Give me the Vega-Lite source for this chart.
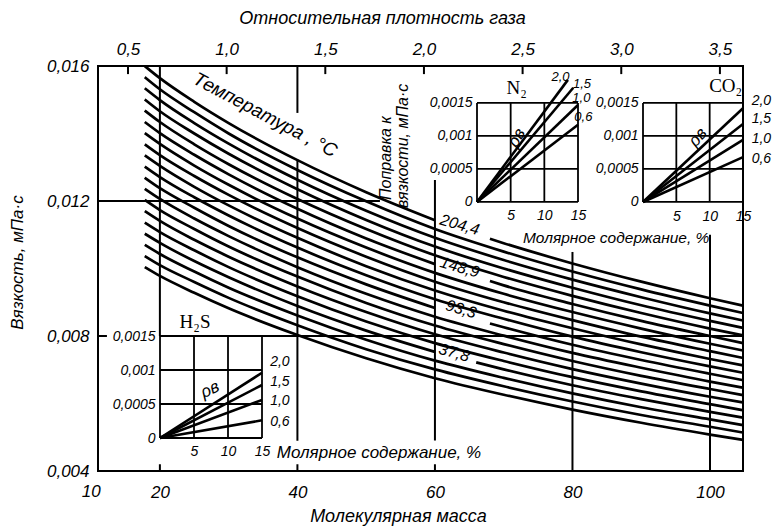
{
"$schema": "https://vega.github.io/schema/vega-lite/v6.json",
"width": 645, "height": 405,
"autosize": {"type": "none"},
"padding": {"left": 98, "top": 66, "right": 30, "bottom": 55},
"background": "white",
"config": {
  "view": {"stroke": "black", "strokeWidth": 2},
  "mark": {"color": "black"},
  "axis": {"grid": false, "domain": false, "ticks": false, "labelFont": "Liberation Sans", "labelFontStyle": "italic", "labelColor": "black", "labelFlush": false, "labelOverlap": false, "labelBound": false, "titleFont": "Liberation Sans", "titleFontStyle": "italic", "titleFontWeight": "normal", "titleColor": "black"},
  "text": {"font": "Liberation Sans", "fontStyle": "italic", "color": "black"}
},
"datasets": {
"curves": [
{"t":400,"s":"a","M":17.8,"v":0.016},{"t":400,"s":"a","M":20,"v":0.01564},{"t":400,"s":"a","M":25,"v":0.01494},{"t":400,"s":"a","M":30,"v":0.01431},{"t":400,"s":"a","M":40,"v":0.01321},{"t":400,"s":"a","M":50,"v":0.01226},{"t":400,"s":"a","M":60,"v":0.01143},
{"t":400,"s":"b","M":68,"v":0.01088},{"t":400,"s":"b","M":70,"v":0.01075},{"t":400,"s":"b","M":80,"v":0.01015},{"t":400,"s":"b","M":90,"v":0.00961},{"t":400,"s":"b","M":100,"v":0.00912},{"t":400,"s":"b","M":104.8,"v":0.0089},
{"t":380,"M":17.8,"v":0.01567},{"t":380,"M":20,"v":0.01531},{"t":380,"M":25,"v":0.01463},{"t":380,"M":30,"v":0.014},{"t":380,"M":40,"v":0.01292},{"t":380,"M":50,"v":0.01199},{"t":380,"M":60,"v":0.01117},{"t":380,"M":70,"v":0.0105},{"t":380,"M":80,"v":0.00991},{"t":380,"M":90,"v":0.00938},{"t":380,"M":100,"v":0.0089},{"t":380,"M":104.8,"v":0.00868},
{"t":360,"M":17.8,"v":0.01534},{"t":360,"M":20,"v":0.01499},{"t":360,"M":25,"v":0.01431},{"t":360,"M":30,"v":0.0137},{"t":360,"M":40,"v":0.01263},{"t":360,"M":50,"v":0.01171},{"t":360,"M":60,"v":0.01091},{"t":360,"M":70,"v":0.01025},{"t":360,"M":80,"v":0.00967},{"t":360,"M":90,"v":0.00915},{"t":360,"M":100,"v":0.00867},{"t":360,"M":104.8,"v":0.00846},
{"t":340,"M":17.8,"v":0.01501},{"t":340,"M":20,"v":0.01466},{"t":340,"M":25,"v":0.014},{"t":340,"M":30,"v":0.0134},{"t":340,"M":40,"v":0.01235},{"t":340,"M":50,"v":0.01144},{"t":340,"M":60,"v":0.01065},{"t":340,"M":70,"v":0.01},{"t":340,"M":80,"v":0.00943},{"t":340,"M":90,"v":0.00891},{"t":340,"M":100,"v":0.00845},{"t":340,"M":104.8,"v":0.00824},
{"t":320,"M":17.8,"v":0.01468},{"t":320,"M":20,"v":0.01434},{"t":320,"M":25,"v":0.01368},{"t":320,"M":30,"v":0.01309},{"t":320,"M":40,"v":0.01206},{"t":320,"M":50,"v":0.01117},{"t":320,"M":60,"v":0.01039},{"t":320,"M":70,"v":0.00975},{"t":320,"M":80,"v":0.00919},{"t":320,"M":90,"v":0.00868},{"t":320,"M":100,"v":0.00822},{"t":320,"M":104.8,"v":0.00802},
{"t":300,"s":"a","M":17.8,"v":0.01434},{"t":300,"s":"a","M":20,"v":0.01401},{"t":300,"s":"a","M":25,"v":0.01337},{"t":300,"s":"a","M":30,"v":0.01279},{"t":300,"s":"a","M":40,"v":0.01177},{"t":300,"s":"a","M":50,"v":0.01089},{"t":300,"s":"a","M":60,"v":0.01013},
{"t":300,"s":"b","M":68,"v":0.00963},{"t":300,"s":"b","M":70,"v":0.0095},{"t":300,"s":"b","M":80,"v":0.00895},{"t":300,"s":"b","M":90,"v":0.00845},{"t":300,"s":"b","M":100,"v":0.008},{"t":300,"s":"b","M":104.8,"v":0.00779},
{"t":280,"M":17.8,"v":0.01401},{"t":280,"M":20,"v":0.01369},{"t":280,"M":25,"v":0.01305},{"t":280,"M":30,"v":0.01248},{"t":280,"M":40,"v":0.01148},{"t":280,"M":50,"v":0.01062},{"t":280,"M":60,"v":0.00987},{"t":280,"M":70,"v":0.00925},{"t":280,"M":80,"v":0.00871},{"t":280,"M":90,"v":0.00822},{"t":280,"M":100,"v":0.00777},{"t":280,"M":104.8,"v":0.00757},
{"t":260,"M":17.8,"v":0.01368},{"t":260,"M":20,"v":0.01336},{"t":260,"M":25,"v":0.01274},{"t":260,"M":30,"v":0.01218},{"t":260,"M":40,"v":0.0112},{"t":260,"M":50,"v":0.01035},{"t":260,"M":60,"v":0.00961},{"t":260,"M":70,"v":0.009},{"t":260,"M":80,"v":0.00847},{"t":260,"M":90,"v":0.00798},{"t":260,"M":100,"v":0.00755},{"t":260,"M":104.8,"v":0.00735},
{"t":240,"M":17.8,"v":0.01335},{"t":240,"M":20,"v":0.01304},{"t":240,"M":25,"v":0.01242},{"t":240,"M":30,"v":0.01187},{"t":240,"M":40,"v":0.01091},{"t":240,"M":50,"v":0.01007},{"t":240,"M":60,"v":0.00935},{"t":240,"M":70,"v":0.00875},{"t":240,"M":80,"v":0.00823},{"t":240,"M":90,"v":0.00775},{"t":240,"M":100,"v":0.00732},{"t":240,"M":104.8,"v":0.00713},
{"t":220,"M":17.8,"v":0.01302},{"t":220,"M":20,"v":0.01271},{"t":220,"M":25,"v":0.01211},{"t":220,"M":30,"v":0.01157},{"t":220,"M":40,"v":0.01062},{"t":220,"M":50,"v":0.0098},{"t":220,"M":60,"v":0.00909},{"t":220,"M":70,"v":0.00851},{"t":220,"M":80,"v":0.00798},{"t":220,"M":90,"v":0.00752},{"t":220,"M":100,"v":0.0071},{"t":220,"M":104.8,"v":0.00691},
{"t":200,"s":"a","M":17.8,"v":0.01269},{"t":200,"s":"a","M":20,"v":0.01238},{"t":200,"s":"a","M":25,"v":0.0118},{"t":200,"s":"a","M":30,"v":0.01126},{"t":200,"s":"a","M":40,"v":0.01033},{"t":200,"s":"a","M":50,"v":0.00953},{"t":200,"s":"a","M":60,"v":0.00883},
{"t":200,"s":"b","M":68,"v":0.00837},{"t":200,"s":"b","M":70,"v":0.00826},{"t":200,"s":"b","M":80,"v":0.00774},{"t":200,"s":"b","M":90,"v":0.00729},{"t":200,"s":"b","M":100,"v":0.00688},{"t":200,"s":"b","M":104.8,"v":0.00669},
{"t":180,"M":17.8,"v":0.01236},{"t":180,"M":20,"v":0.01206},{"t":180,"M":25,"v":0.01148},{"t":180,"M":30,"v":0.01096},{"t":180,"M":40,"v":0.01004},{"t":180,"M":50,"v":0.00925},{"t":180,"M":60,"v":0.00857},{"t":180,"M":70,"v":0.00801},{"t":180,"M":80,"v":0.0075},{"t":180,"M":90,"v":0.00706},{"t":180,"M":100,"v":0.00665},{"t":180,"M":104.8,"v":0.00647},
{"t":160,"M":17.8,"v":0.01203},{"t":160,"M":20,"v":0.01173},{"t":160,"M":25,"v":0.01117},{"t":160,"M":30,"v":0.01065},{"t":160,"M":40,"v":0.00976},{"t":160,"M":50,"v":0.00898},{"t":160,"M":60,"v":0.00831},{"t":160,"M":70,"v":0.00776},{"t":160,"M":80,"v":0.00726},{"t":160,"M":90,"v":0.00682},{"t":160,"M":100,"v":0.00643},{"t":160,"M":104.8,"v":0.00625},
{"t":140,"M":17.8,"v":0.0117},{"t":140,"M":20,"v":0.01141},{"t":140,"M":25,"v":0.01085},{"t":140,"M":30,"v":0.01035},{"t":140,"M":40,"v":0.00947},{"t":140,"M":50,"v":0.00871},{"t":140,"M":60,"v":0.00805},{"t":140,"M":70,"v":0.00751},{"t":140,"M":80,"v":0.00702},{"t":140,"M":90,"v":0.00659},{"t":140,"M":100,"v":0.0062},{"t":140,"M":104.8,"v":0.00603},
{"t":120,"M":17.8,"v":0.01136},{"t":120,"M":20,"v":0.01108},{"t":120,"M":25,"v":0.01054},{"t":120,"M":30,"v":0.01004},{"t":120,"M":40,"v":0.00918},{"t":120,"M":50,"v":0.00843},{"t":120,"M":60,"v":0.00779},{"t":120,"M":70,"v":0.00726},{"t":120,"M":80,"v":0.00678},{"t":120,"M":90,"v":0.00636},{"t":120,"M":100,"v":0.00598},{"t":120,"M":104.8,"v":0.0058},
{"t":100,"s":"a","M":17.8,"v":0.01103},{"t":100,"s":"a","M":20,"v":0.01076},{"t":100,"s":"a","M":25,"v":0.01022},{"t":100,"s":"a","M":30,"v":0.00974},{"t":100,"s":"a","M":40,"v":0.00889},{"t":100,"s":"a","M":50,"v":0.00816},{"t":100,"s":"a","M":60,"v":0.00753},
{"t":100,"s":"b","M":66,"v":0.00722},{"t":100,"s":"b","M":70,"v":0.00701},{"t":100,"s":"b","M":80,"v":0.00654},{"t":100,"s":"b","M":90,"v":0.00613},{"t":100,"s":"b","M":100,"v":0.00575},{"t":100,"s":"b","M":104.8,"v":0.00558},
{"t":80,"M":17.8,"v":0.0107},{"t":80,"M":20,"v":0.01043},{"t":80,"M":25,"v":0.00991},{"t":80,"M":30,"v":0.00943},{"t":80,"M":40,"v":0.00861},{"t":80,"M":50,"v":0.00789},{"t":80,"M":60,"v":0.00727},{"t":80,"M":70,"v":0.00676},{"t":80,"M":80,"v":0.0063},{"t":80,"M":90,"v":0.00589},{"t":80,"M":100,"v":0.00553},{"t":80,"M":104.8,"v":0.00536},
{"t":60,"M":17.8,"v":0.01037},{"t":60,"M":20,"v":0.0101},{"t":60,"M":25,"v":0.0096},{"t":60,"M":30,"v":0.00913},{"t":60,"M":40,"v":0.00832},{"t":60,"M":50,"v":0.00761},{"t":60,"M":60,"v":0.00701},{"t":60,"M":70,"v":0.00651},{"t":60,"M":80,"v":0.00606},{"t":60,"M":90,"v":0.00566},{"t":60,"M":100,"v":0.00531},{"t":60,"M":104.8,"v":0.00514},
{"t":40,"M":17.8,"v":0.01004},{"t":40,"M":20,"v":0.00978},{"t":40,"M":25,"v":0.00928},{"t":40,"M":30,"v":0.00882},{"t":40,"M":40,"v":0.00803},{"t":40,"M":50,"v":0.00734},{"t":40,"M":60,"v":0.00675},{"t":40,"M":70,"v":0.00626},{"t":40,"M":80,"v":0.00582},{"t":40,"M":90,"v":0.00543},{"t":40,"M":100,"v":0.00508},{"t":40,"M":104.8,"v":0.00492}
],
"rules": [
{"M":20,"M2":20,"v":0.016,"v2":0.008},
{"M":20,"M2":20,"v":0.004,"v2":0.0042},
{"M":40,"M2":40,"v":0.016,"v2":0.01461},
{"M":40,"M2":40,"v":0.01323,"v2":0.0049},
{"M":40,"M2":40,"v":0.004,"v2":0.0042},
{"M":60,"M2":60,"v":0.01262,"v2":0.0049},
{"M":60,"M2":60,"v":0.004,"v2":0.0042},
{"M":80,"M2":80,"v":0.01049,"v2":0.004},
{"M":100,"M2":100,"v":0.011,"v2":0.004},
{"M":11,"M2":52,"v":0.012,"v2":0.012},
{"M":11,"M2":12.3,"v":0.008,"v2":0.008},
{"M":20,"M2":104.8,"v":0.008,"v2":0.008}
],
"tlab": [
{"M":63.6,"v":0.01129,"label":"204,4"},
{"M":63.6,"v":0.01003,"label":"148,9"},
{"M":63.8,"v":0.00879,"label":"93,3"},
{"M":62.8,"v":0.0075,"label":"37,8"}
],
"grid": [
{"x":0,"x2":15,"y":0,"y2":0},
{"x":0,"x2":15,"y":0.0015,"y2":0.0015},
{"x":0,"x2":0,"y":0,"y2":0.0015},
{"x":15,"x2":15,"y":0,"y2":0.0015},
{"x":5,"x2":5,"y":0,"y2":0.0015},
{"x":10,"x2":10,"y":0,"y2":0.0015},
{"x":0,"x2":15,"y":0.0005,"y2":0.0005},
{"x":0,"x2":15,"y":0.001,"y2":0.001}
],
"n2": [
{"g":"0.6","x":0,"y":0},{"g":"0.6","x":15,"y":0.00117},
{"g":"1.0","x":0,"y":0},{"g":"1.0","x":15,"y":0.00147},
{"g":"1.5","x":0,"y":0},{"g":"1.5","x":14.3,"y":0.00173},
{"g":"2.0","x":0,"y":0},{"g":"2.0","x":13.5,"y":0.00185}
],
"n2lab": [
{"x":12.4,"y":0.00189,"label":"2,0"},
{"x":15.6,"y":0.00179,"label":"1,5"},
{"x":15.5,"y":0.00157,"label":"1,0"},
{"x":15.8,"y":0.00128,"label":"0,6"}
],
"co2": [
{"g":"0.6","x":0,"y":0},{"g":"0.6","x":15,"y":0.00068},
{"g":"1.0","x":0,"y":0},{"g":"1.0","x":15,"y":0.00094},
{"g":"1.5","x":0,"y":0},{"g":"1.5","x":15,"y":0.00118},
{"g":"2.0","x":0,"y":0},{"g":"2.0","x":15,"y":0.00142}
],
"co2lab": [
{"x":16.3,"y":0.00153,"label":"2,0"},
{"x":16.3,"y":0.00126,"label":"1,5"},
{"x":16.3,"y":0.00095,"label":"1,0"},
{"x":16.3,"y":0.00065,"label":"0,6"}
],
"h2s": [
{"g":"0.6","x":0,"y":0},{"g":"0.6","x":15,"y":0.00026},
{"g":"1.0","x":0,"y":0},{"g":"1.0","x":15,"y":0.00056},
{"g":"1.5","x":0,"y":0},{"g":"1.5","x":15,"y":0.00078},
{"g":"2.0","x":0,"y":0},{"g":"2.0","x":15,"y":0.00096}
],
"h2slab": [
{"x":16.2,"y":0.00112,"label":"2,0"},
{"x":16.2,"y":0.00082,"label":"1,5"},
{"x":16.2,"y":0.00054,"label":"1,0"},
{"x":16.2,"y":0.00024,"label":"0,6"}
]
},
"resolve": {"scale": {"x": "independent", "y": "independent"}, "axis": {"x": "independent", "y": "independent"}},
"layer": [
{
  "encoding": {
    "x": {"field": "M", "type": "quantitative", "scale": {"domain": [11, 104.8], "nice": false, "zero": false},
      "axis": {"orient": "bottom", "values": [20, 40, 60, 80, 100], "labelFontSize": 17, "labelPadding": 13, "title": "Молекулярная масса", "titleFontSize": 18, "titleX": 300, "titleY": 45, "titleAlign": "center", "titleBaseline": "middle"}},
    "y": {"field": "v", "type": "quantitative", "scale": {"domain": [0.004, 0.016], "nice": false, "zero": false},
      "axis": {"orient": "left", "values": [0.004, 0.008, 0.012, 0.016], "labelExpr": "replace(format(datum.value, '.3f'), '.', ',')", "labelFontSize": 17, "labelPadding": 9, "title": "Вязкость, мПа·с", "titleFontSize": 17, "titleX": -81, "titleY": 196, "titleAngle": -90, "titleAlign": "center", "titleBaseline": "middle"}}
  },
  "layer": [
    {"data": {"name": "curves"}, "mark": {"type": "line", "strokeWidth": 2.7, "interpolate": "monotone"}, "encoding": {"detail": [{"field": "t", "type": "nominal"}, {"field": "s", "type": "nominal"}]}},
    {"data": {"name": "rules"}, "mark": {"type": "rule", "strokeWidth": 2}, "encoding": {"x2": {"field": "M2"}, "y2": {"field": "v2"}}},
    {"data": {"name": "tlab"}, "mark": {"type": "text", "angle": 16, "fontSize": 16, "align": "center", "baseline": "middle"}, "encoding": {"text": {"field": "label"}}},
    {"data": {"values": [{"M": 35.3, "v": 0.01455, "label": "Температура , °C"}]}, "mark": {"type": "text", "angle": 28, "fontSize": 19, "align": "center", "baseline": "middle"}, "encoding": {"text": {"field": "label"}}},
    {"data": {"values": [{"M": 10, "v": 0.004, "label": "10"}]}, "mark": {"type": "text", "fontSize": 17, "align": "center", "baseline": "top", "dy": 13}, "encoding": {"text": {"field": "label"}}},
    {"data": {"values": [{"M": 52.9, "v": 0.01203, "label": "Поправка к"}, {"M": 55.4, "v": 0.01179, "label": "вязкости, мПа·с"}]}, "mark": {"type": "text", "angle": 270, "fontSize": 16, "align": "left", "baseline": "middle"}, "encoding": {"text": {"field": "label"}}},
    {"data": {"values": [{"M": 72.8, "v": 0.0109, "label": "Молярное содержание, %"}]}, "mark": {"type": "text", "fontSize": 15.5, "align": "left", "baseline": "middle"}, "encoding": {"text": {"field": "label"}}},
    {"data": {"values": [{"M": 37.0, "v": 0.00453, "label": "Молярное содержание, %"}]}, "mark": {"type": "text", "fontSize": 17, "align": "left", "baseline": "middle"}, "encoding": {"text": {"field": "label"}}}
  ]
},
{
  "data": {"values": [{"d": 0.5}, {"d": 1.0}, {"d": 1.5}, {"d": 2.0}, {"d": 2.5}, {"d": 3.0}, {"d": 3.5}]},
  "mark": {"type": "rule", "strokeWidth": 2},
  "encoding": {
    "x": {"field": "d", "type": "quantitative", "scale": {"domain": [0.348, 3.617], "nice": false, "zero": false},
      "axis": {"orient": "top", "values": [0.5, 1, 1.5, 2, 2.5, 3, 3.5], "labelExpr": "replace(format(datum.value, '.1f'), '.', ',')", "labelPadding": 8, "labelFontSize": 17, "title": "Относительная плотность газа", "titleFontSize": 18, "titleX": 284, "titleY": -48, "titleAlign": "center", "titleBaseline": "middle"}},
    "y": {"datum": 1, "type": "quantitative", "scale": {"domain": [0, 1], "nice": false, "zero": false}, "axis": null},
    "y2": {"datum": 0.98}
  }
},
{
  "encoding": {
    "x": {"field": "x", "type": "quantitative", "scale": {"domain": [-56.287, 39.505], "nice": false, "zero": false},
      "axis": {"orient": "bottom", "offset": -269, "values": [5, 10, 15], "labelFontSize": 14, "labelPadding": 6, "title": null}},
    "y": {"field": "y", "type": "quantitative", "scale": {"domain": [-0.004076, 0.00206], "nice": false, "zero": false},
      "axis": {"orient": "left", "offset": -379, "values": [0, 0.0005, 0.001, 0.0015], "labelExpr": "replace(format(datum.value, '.4~f'), '.', ',')", "labelFontSize": 14, "labelPadding": 5, "title": null}}
  },
  "layer": [
    {"data": {"name": "grid"}, "mark": {"type": "rule", "strokeWidth": 1.8}, "encoding": {"x2": {"field": "x2"}, "y2": {"field": "y2"}}},
    {"data": {"name": "n2"}, "mark": {"type": "line", "strokeWidth": 2.6}, "encoding": {"detail": {"field": "g", "type": "nominal"}}},
    {"data": {"name": "n2lab"}, "mark": {"type": "text", "fontSize": 13, "align": "center", "baseline": "middle"}, "encoding": {"text": {"field": "label"}}},
    {"data": {"values": [{"x": 5.9, "y": 0.00097, "label": "ρв"}]}, "mark": {"type": "text", "fontSize": 17, "angle": 300, "align": "center", "baseline": "middle"}, "encoding": {"text": {"field": "label"}}},
    {"data": {"values": [{"x": 5.9, "y": 0.00173, "label": "N₂"}]}, "mark": {"type": "text", "font": "Liberation Serif", "fontStyle": "normal", "fontSize": 19, "align": "center", "baseline": "middle"}, "encoding": {"text": {"field": "label"}}}
  ]
},
{
  "encoding": {
    "x": {"field": "x", "type": "quantitative", "scale": {"domain": [-81.75, 15], "nice": false, "zero": false},
      "axis": {"orient": "bottom", "offset": -268, "values": [5, 10, 15], "labelFontSize": 14, "labelPadding": 6, "title": null}},
    "y": {"field": "y", "type": "quantitative", "scale": {"domain": [-0.004076, 0.00206], "nice": false, "zero": false},
      "axis": {"orient": "left", "offset": -545, "values": [0, 0.0005, 0.001, 0.0015], "labelExpr": "replace(format(datum.value, '.4~f'), '.', ',')", "labelFontSize": 14, "labelPadding": 5, "title": null}}
  },
  "layer": [
    {"data": {"name": "grid"}, "mark": {"type": "rule", "strokeWidth": 1.8}, "encoding": {"x2": {"field": "x2"}, "y2": {"field": "y2"}}},
    {"data": {"name": "co2"}, "mark": {"type": "line", "strokeWidth": 2.6}, "encoding": {"detail": {"field": "g", "type": "nominal"}}},
    {"data": {"name": "co2lab"}, "mark": {"type": "text", "fontSize": 14, "align": "left", "baseline": "middle"}, "encoding": {"text": {"field": "label"}}},
    {"data": {"values": [{"x": 8.25, "y": 0.00098, "label": "ρв"}]}, "mark": {"type": "text", "fontSize": 17, "angle": 310, "align": "center", "baseline": "middle"}, "encoding": {"text": {"field": "label"}}},
    {"data": {"values": [{"x": 12.4, "y": 0.00175, "label": "CO₂"}]}, "mark": {"type": "text", "font": "Liberation Serif", "fontStyle": "normal", "fontSize": 19, "align": "center", "baseline": "middle"}, "encoding": {"text": {"field": "label"}}}
  ]
},
{
  "encoding": {
    "x": {"field": "x", "type": "quantitative", "scale": {"domain": [-9.118, 85.735], "nice": false, "zero": false},
      "axis": {"orient": "bottom", "offset": -33, "values": [5, 10, 15], "labelFontSize": 14, "labelPadding": 6, "title": null}},
    "y": {"field": "y", "type": "quantitative", "scale": {"domain": [-0.000485, 0.005471], "nice": false, "zero": false},
      "axis": {"orient": "left", "offset": -62, "values": [0, 0.0005, 0.001, 0.0015], "labelExpr": "replace(format(datum.value, '.4~f'), '.', ',')", "labelFontSize": 14, "labelPadding": 5, "title": null}}
  },
  "layer": [
    {"data": {"name": "grid"}, "mark": {"type": "rule", "strokeWidth": 1.8}, "encoding": {"x2": {"field": "x2"}, "y2": {"field": "y2"}}},
    {"data": {"name": "h2s"}, "mark": {"type": "line", "strokeWidth": 2.6}, "encoding": {"detail": {"field": "g", "type": "nominal"}}},
    {"data": {"name": "h2slab"}, "mark": {"type": "text", "fontSize": 14, "align": "left", "baseline": "middle"}, "encoding": {"text": {"field": "label"}}},
    {"data": {"values": [{"x": 7.35, "y": 0.00071, "label": "ρв"}]}, "mark": {"type": "text", "fontSize": 17, "angle": 335, "align": "center", "baseline": "middle"}, "encoding": {"text": {"field": "label"}}},
    {"data": {"values": [{"x": 5.15, "y": 0.00171, "label": "H₂S"}]}, "mark": {"type": "text", "font": "Liberation Serif", "fontStyle": "normal", "fontSize": 19, "align": "center", "baseline": "middle"}, "encoding": {"text": {"field": "label"}}}
  ]
}
]
}
